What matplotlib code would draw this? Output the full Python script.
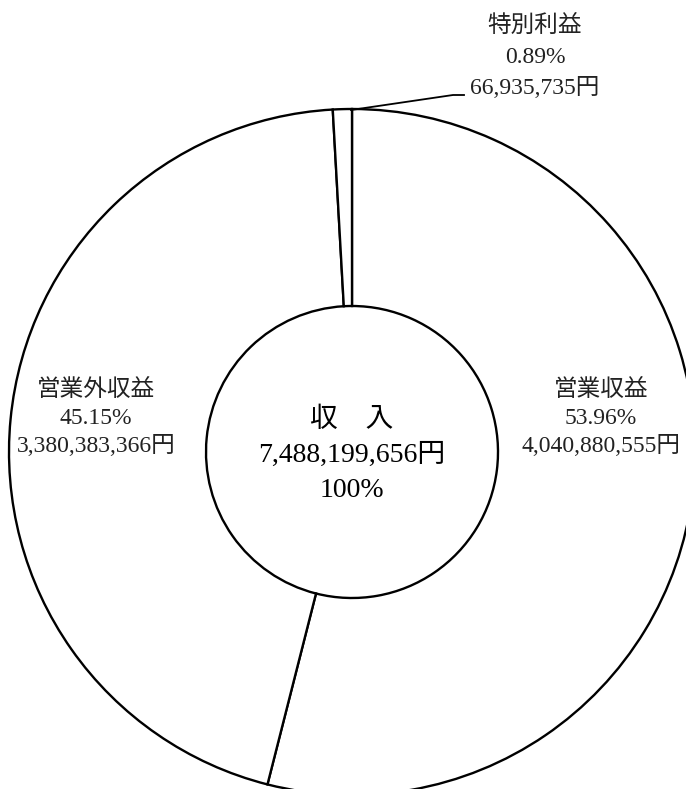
import matplotlib.pyplot as plt

# 収入の内訳 (円)
names = ['営業収益', '営業外収益', '特別利益']
amounts = [4040880555, 3380383366, 66935735]
pcts = [53.96, 45.15, 0.89]
center_title = '収　入'

fonts = ['Liberation Serif', 'Noto Sans CJK JP']
W, H = 686, 789

fig = plt.figure(figsize=(W / 100, H / 100), dpi=100)
ax = fig.add_axes([0, 0, 1, 1])

cx, cy = 352, H - 452
r_out, r_in = 343, 146

ax.pie(amounts, startangle=90, counterclock=False, center=(cx, cy), radius=r_out,
       colors=['white'] * len(amounts),
       wedgeprops=dict(width=r_out - r_in, edgecolor='black', linewidth=1.7))
ax.set_xlim(0, W)
ax.set_ylim(0, H)
ax.set_aspect('equal')
ax.axis('off')

# labels (x, first line y from top, line step)
spots = {'営業収益': (601, 390, 28), '営業外収益': (96, 390, 28), '特別利益': (535, 26, 31)}
for name, amt, p in zip(names, amounts, pcts):
    x, y0, step = spots[name]
    lines = [name, f'{p:.2f}%', f'{amt:,}円']
    for i, s in enumerate(lines):
        ax.text(x, H - (y0 + i * step), s, ha='center', va='center',
                fontsize=17, family=fonts, color='#222222')

# leader for the small slice
ax.plot([cx - 1, 453, 464], [H - 110, H - 95, H - 95], color='black', lw=1.3)

# centre text
total = sum(amounts)
centre = [center_title, f'{total:,}円', '100%']
for i, s in enumerate(centre):
    ax.text(cx, H - (420 + i * 35), s, ha='center', va='center',
            fontsize=20, family=fonts, color='black')

fig.savefig('out.png', dpi=100)
